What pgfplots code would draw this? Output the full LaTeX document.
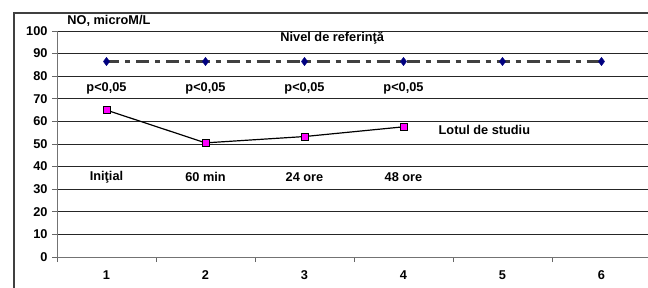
\documentclass[border=0pt]{standalone}
\usepackage{pgfplots}
\pgfplotsset{compat=1.18}
\usepackage{fontspec}
\setmainfont{Liberation Sans}
\definecolor{mag}{RGB}{255,0,255}
\definecolor{navy}{RGB}{0,0,128}
\begin{document}
\begin{tikzpicture}
\newcommand{\lf}{\fontsize{12.8}{14}\selectfont\bfseries}
\begin{axis}[
  at={(0,0)}, anchor=south west,
  scale only axis, width=594bp, height=226bp,
  xmin=0.5, xmax=6.5, ymin=0, ymax=100,
  axis lines=left, axis line style={-, draw=black!55, line width=0.9bp},
  xtick={1,2,3,4,5,6}, major x tick style={draw=none},
  minor xtick={0.5,1.5,2.5,3.5,4.5,5.5,6.5},
  minor x tick style={draw=black!60, line width=0.8bp},
  minor tick length=5bp,
  ytick={0,10,...,100}, major tick length=5bp,
  major y tick style={draw=black!60, line width=0.8bp},
  tick align=outside,
  ymajorgrids, grid style={draw=black!85, line width=0.8bp},
  ticklabel style={font=\lf},
  /pgf/number format/assume math mode=true,
  xticklabel style={yshift=-5bp},
  yticklabel style={xshift=-1bp},
  clip=false,
]
\addplot[black!75, line width=2.6bp, dash pattern=on 13bp off 6bp on 5bp off 6bp,
  mark=diamond*, mark size=4.2bp, mark options={solid, fill=navy, draw=navy, line width=0.3bp}]
  coordinates {(1,86.5) (2,86.5) (3,86.5) (4,86.5) (5,86.5) (6,86.5)};
\addplot[black, line width=1.2bp, mark=square*, mark size=3.5bp,
  mark options={fill=mag, draw=black, line width=0.6bp}]
  coordinates {(1,65) (2,50.5) (3,53.3) (4,57.6)};
\node[font=\lf, anchor=west] at (axis cs:0.57,104.3) {NO, microM/L};
\node[font=\lf] at (axis cs:3.28,96.7) {Nivel de referinţă};
\node[font=\lf] at (axis cs:1,74.6) {p<0,05};
\node[font=\lf] at (axis cs:2,74.6) {p<0,05};
\node[font=\lf] at (axis cs:3,74.6) {p<0,05};
\node[font=\lf] at (axis cs:4,74.6) {p<0,05};
\node[font=\lf, anchor=west] at (axis cs:4.32,56.3) {Lotul de studiu};
\node[font=\lf] at (axis cs:1,35.4) {Iniţial};
\node[font=\lf] at (axis cs:2,35.4) {60 min};
\node[font=\lf] at (axis cs:3,35.4) {24 ore};
\node[font=\lf] at (axis cs:4,35.4) {48 ore};
\end{axis}
\draw[black!75, line width=1.1bp] (-43bp,-40bp) -- (-43bp,244bp) -- (600bp,244bp);
\pgfresetboundingbox
\useasboundingbox (-57bp,-31bp) rectangle (591bp,257bp);
\end{tikzpicture}
\end{document}
